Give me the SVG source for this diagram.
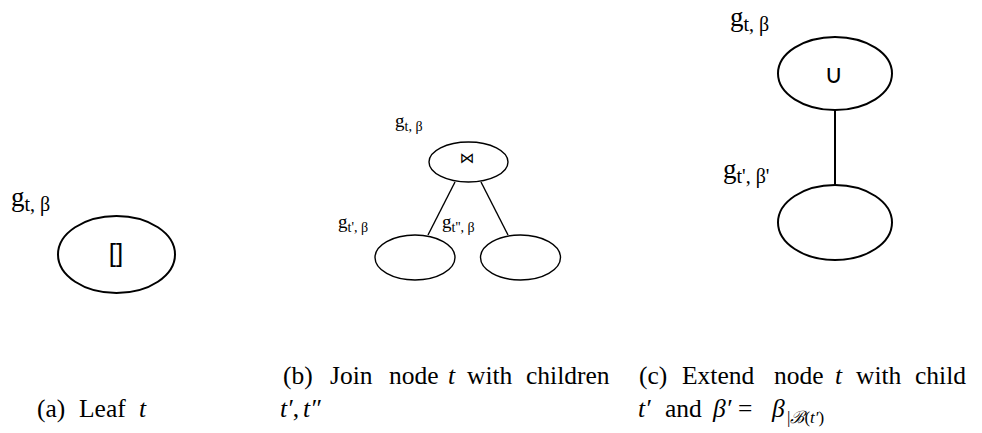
<svg xmlns="http://www.w3.org/2000/svg" width="982" height="433" viewBox="0 0 982 433">
<style>
.nd{fill:#fff;stroke:#000;stroke-width:2}
.nds{fill:#fff;stroke:#000;stroke-width:1.4}
.ln{stroke:#000;stroke-width:2;fill:none}
.lns{stroke:#000;stroke-width:1.4;fill:none}
.lbl{font-family:"Liberation Serif","DejaVu Serif",serif;font-size:27px;fill:#000}
.lbls{font-family:"Liberation Serif","DejaVu Serif",serif;font-size:19px;fill:#000}
.sym{font-family:"Liberation Sans","DejaVu Sans",sans-serif;fill:#000;text-anchor:middle}
.cap{font-family:"Liberation Serif","DejaVu Serif",serif;font-size:25.5px;fill:#000}
.it{font-style:italic}
</style>
<rect width="982" height="433" fill="#fff"/>
<g id="connectors">
<line class="lns" x1="455" y1="182" x2="428" y2="235"/>
<line class="lns" x1="481" y1="182" x2="508" y2="235"/>
<line class="ln" x1="835" y1="110" x2="835" y2="185"/>
</g>
<g id="leaf">
<ellipse class="nd" cx="116.5" cy="254.5" rx="58.5" ry="38.5"/>
<text class="sym" x="116" y="262" style="font-size:26px">[]</text>
<text class="lbl" x="11" y="206">g<tspan font-size="20" dy="5">t, β</tspan></text>
</g>
<g id="join">
<ellipse class="nds" cx="468.5" cy="162" rx="39.5" ry="20"/>
<text class="sym" x="467" y="163" style="font-size:15px;font-family:'DejaVu Sans',sans-serif">⋈</text>
<text class="lbls" x="395" y="127">g<tspan font-size="14" dy="4">t, β</tspan></text>
</g>
<g id="join-child1">
<ellipse class="nds" cx="415" cy="257.5" rx="40" ry="22.5"/>
<text class="lbls" x="338" y="228">g<tspan font-size="14" dy="4">t', β</tspan></text>
</g>
<g id="join-child2">
<ellipse class="nds" cx="520.5" cy="257.5" rx="40" ry="22.5"/>
<text class="lbls" x="442" y="228">g<tspan font-size="14" dy="4">t'', β</tspan></text>
</g>
<g id="extend">
<ellipse class="nd" cx="835" cy="73.5" rx="57" ry="36.5"/>
<text class="sym" x="834" y="83" style="font-size:26px;font-family:'DejaVu Sans',sans-serif">∪</text>
<text class="lbl" x="730" y="26">g<tspan font-size="20" dy="5">t, β</tspan></text>
</g>
<g id="extend-child">
<ellipse class="nd" cx="835" cy="222.5" rx="57" ry="37.5"/>
<text class="lbl" x="723" y="178">g<tspan font-size="20" dy="5">t', β'</tspan></text>
</g>
<g id="captions">
<text class="cap" y="417"><tspan x="37">(a)</tspan><tspan x="79">Leaf</tspan><tspan x="139" class="it">t</tspan></text>
<text class="cap" y="384"><tspan x="283">(b)</tspan><tspan x="330">Join</tspan><tspan x="389">node</tspan><tspan x="448" class="it">t</tspan><tspan x="467">with</tspan><tspan x="526">children</tspan></text>
<text class="cap" y="417"><tspan x="280" class="it">t′</tspan><tspan>,</tspan><tspan x="303" class="it">t″</tspan></text>
<text class="cap" y="384"><tspan x="639">(c)</tspan><tspan x="682">Extend</tspan><tspan x="774">node</tspan><tspan x="835" class="it">t</tspan><tspan x="856">with</tspan><tspan x="915">child</tspan></text>
<text class="cap" y="417"><tspan x="638" class="it">t′</tspan><tspan x="665">and</tspan><tspan x="713" class="it">β′</tspan><tspan x="738">=</tspan><tspan x="772" class="it">β</tspan><tspan x="787" dy="6" font-size="17">|</tspan><tspan class="it" font-size="17">ℬ</tspan><tspan font-size="17">(</tspan><tspan class="it" font-size="17">t′</tspan><tspan font-size="17">)</tspan></text>
</g>
</svg>
